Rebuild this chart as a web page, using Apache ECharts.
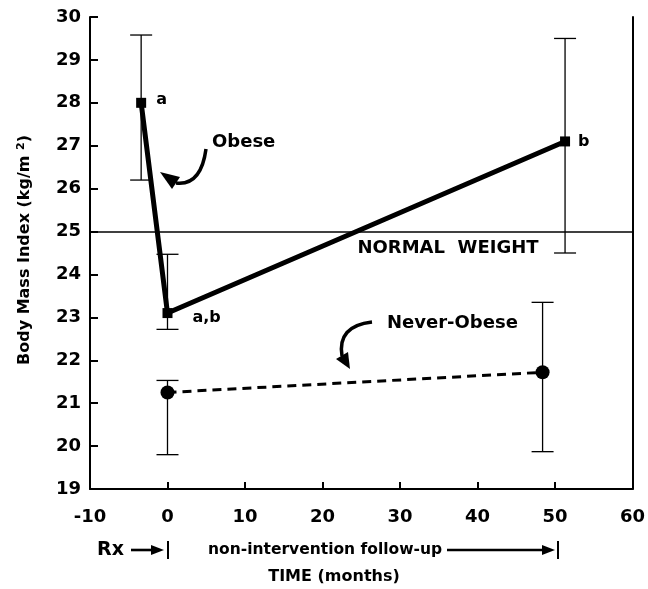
<!DOCTYPE html>
<html>
<head>
<meta charset="utf-8">
<style>html,body{margin:0;padding:0;background:#fff;}#c{width:648px;height:589px;}</style>
<script src="https://cdn.jsdelivr.net/npm/echarts/dist/echarts.min.js"></script>
</head>
<body>
<div id="c"></div>
<script>
// ---- data ----
const obeseX = [-3.4, 0, 51.3];
const obeseY = [28.0, 23.1, 27.1];
const obeseLow = [26.2, 22.72, 24.5];
const obeseHigh = [29.58, 24.47, 29.5];
const obeseLabels = ['a', 'a,b', 'b'];
const neverX = [0, 48.4];
const neverY = [21.25, 21.72];
const neverLow = [19.8, 19.87];
const neverHigh = [21.53, 23.35];
const normalWeight = 25;
const xMin = -10, xMax = 60, xStep = 10;
const yMin = 19, yMax = 30, yStep = 1;

const FONT = 'DejaVu Sans';
const chart = echarts.init(document.getElementById('c'), null, {renderer: 'canvas'});

const obeseData = obeseX.map((x, i) => [x, obeseY[i]]);
const neverData = neverX.map((x, i) => [x, neverY[i]]);
const errData = obeseX.map((x, i) => [x, obeseLow[i], obeseHigh[i]])
  .concat(neverX.map((x, i) => [x, neverLow[i], neverHigh[i]]));

const labelOffsets = [[0, -3], [6, 5], [0, 0]];
const labelDist = [10, 14, 8];

function errRender(params, api) {
  const x = api.value(0);
  const lo = api.coord([x, api.value(1)]);
  const hi = api.coord([x, api.value(2)]);
  const w = 11;
  const st = {stroke: '#000', lineWidth: 1.3};
  return {type: 'group', children: [
    {type: 'line', shape: {x1: lo[0], y1: lo[1], x2: hi[0], y2: hi[1]}, style: st},
    {type: 'line', shape: {x1: lo[0] - w, y1: lo[1], x2: lo[0] + w, y2: lo[1]}, style: st},
    {type: 'line', shape: {x1: hi[0] - w, y1: hi[1], x2: hi[0] + w, y2: hi[1]}, style: st}
  ]};
}

const axisLbl = {color: '#000', fontFamily: FONT, fontWeight: 'bold', fontSize: 18};

chart.setOption({
  animation: false,
  backgroundColor: '#fff',
  grid: {left: 90, right: 12, top: 17, bottom: 100},
  xAxis: {
    type: 'value', min: xMin, max: xMax, interval: xStep,
    axisLine: {show: true, onZero: false, lineStyle: {color: '#000', width: 2}},
    axisTick: {show: true, inside: true, length: 7, lineStyle: {color: '#000', width: 2}},
    axisLabel: Object.assign({margin: 19}, axisLbl),
    splitLine: {show: false}
  },
  yAxis: [{
    type: 'value', min: yMin, max: yMax, interval: yStep, position: 'left',
    axisLine: {show: true, onZero: false, lineStyle: {color: '#000', width: 2}},
    axisTick: {show: true, inside: true, length: 8, lineStyle: {color: '#000', width: 2}},
    axisLabel: Object.assign({margin: 9}, axisLbl),
    splitLine: {show: false}
  }, {
    type: 'value', min: yMin, max: yMax, interval: yStep, position: 'right',
    axisLine: {show: true, onZero: false, lineStyle: {color: '#000', width: 2}},
    axisTick: {show: false}, axisLabel: {show: false}, splitLine: {show: false}
  }],
  series: [
    {
      type: 'custom', renderItem: errRender, data: errData, z: 2,
      encode: {x: 0, y: [1, 2]}
    },
    {
      name: 'Obese', type: 'line', data: obeseData.map((d, i) => ({
        value: d,
        label: {show: true, formatter: obeseLabels[i], position: 'right', distance: labelDist[i],
                offset: labelOffsets[i], color: '#000', fontFamily: FONT, fontWeight: 'bold', fontSize: 16}
      })),
      symbol: 'rect', symbolSize: 10, showSymbol: true,
      lineStyle: {color: '#000', width: 5},
      itemStyle: {color: '#000'}, z: 4,
      markLine: {
        silent: true, symbol: ['none', 'none'],
        label: {show: false},
        lineStyle: {color: '#000', width: 1.6, type: 'solid'},
        data: [{yAxis: normalWeight}]
      }
    },
    {
      name: 'Never-Obese', type: 'line', data: neverData,
      symbol: 'circle', symbolSize: 14, showSymbol: true,
      lineStyle: {color: '#000', width: 3, type: [9, 6]},
      itemStyle: {color: '#000'}, z: 4
    }
  ]
});

// ---- annotations ----
const txt = (x, y, text, size, align) => ({
  type: 'text', x: x, y: y, z: 10,
  style: {text: text, fill: '#000', font: 'bold ' + size + 'px "' + FONT + '"',
          textAlign: align || 'left', textVerticalAlign: 'middle'}
});
const line = (x1, y1, x2, y2, w) => ({
  type: 'line', z: 10, shape: {x1, y1, x2, y2}, style: {stroke: '#000', lineWidth: w || 2}
});
const tri = (pts) => ({type: 'polygon', z: 10, shape: {points: pts}, style: {fill: '#000'}});
const curve = (x1, y1, cx, cy, x2, y2) => ({
  type: 'bezierCurve', z: 10,
  shape: {x1, y1, cpx1: cx, cpy1: cy, x2, y2},
  style: {stroke: '#000', lineWidth: 3.5, fill: null}
});

chart.setOption({
  graphic: [
    txt(212, 142, 'Obese', 18),
    curve(206, 149, 201, 186, 176, 183),
    tri([[160, 172], [180, 177], [172, 189]]),
    txt(387, 323, 'Never-Obese', 18),
    curve(372, 322, 337, 326, 342, 356),
    tri([[350, 369], [348, 352], [336, 359]]),
    txt(448, 248, 'NORMAL  WEIGHT', 18, 'center'),
    // bottom notes
    txt(97, 550, 'Rx', 19),
    line(131, 550, 154, 550, 2.6),
    tri([[164, 550], [151, 545], [151, 555]]),
    line(168, 541, 168, 559, 2),
    txt(208, 550, 'non-intervention follow-up', 15.5),
    line(447, 550, 545, 550, 2.4),
    tri([[555, 550], [542, 545], [542, 555]]),
    line(558, 541, 558, 559, 2),
    txt(334, 577, 'TIME (months)', 16, 'center'),
    {
      type: 'text', z: 10, x: 25, y: 250, rotation: Math.PI / 2,
      style: {
        text: '{a|Body Mass Index (kg/m }{s|2}{a|)}',
        textAlign: 'center', textVerticalAlign: 'middle',
        rich: {
          a: {fontFamily: FONT, fontWeight: 'bold', fontSize: 16, fill: '#000'},
          s: {fontFamily: FONT, fontWeight: 'bold', fontSize: 11, fill: '#000', padding: [0, 0, 8, 0]}
        }
      }
    }
  ]
});
</script>
</body>
</html>
